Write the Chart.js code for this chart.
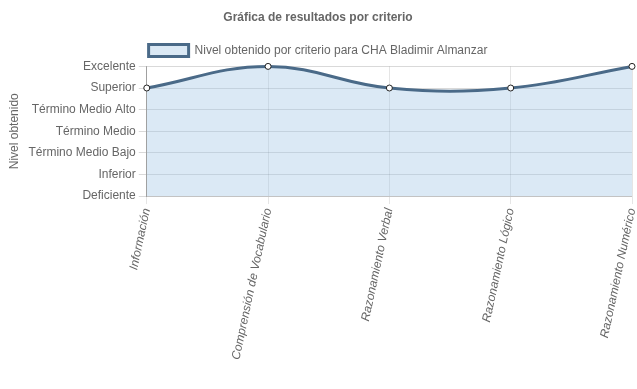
<!DOCTYPE html>
<html>
<head>
<meta charset="utf-8">
<script src="https://cdn.jsdelivr.net/npm/chart.js@4.4.1/dist/chart.umd.min.js"></script>
<style>
  html, body { margin: 0; padding: 0; background: #fff; }
  #wrap { width: 637px; height: 389px; }
</style>
</head>
<body>
<div id="wrap"><canvas id="grafica"></canvas></div>
<script>
// Criterios evaluados
const criterios = ['Información', 'Comprensión de Vocabulario', 'Razonamiento Verbal', 'Razonamiento Lógico', 'Razonamiento Numérico'];
// Niveles (de menor a mayor)
const niveles = ['Deficiente', 'Inferior', 'Término Medio Bajo', 'Término Medio', 'Término Medio Alto', 'Superior', 'Excelente'];
// Nivel obtenido por criterio (índice en niveles)
const resultados = [5, 6, 5, 5, 6];

Chart.defaults.font.family = '"Liberation Sans", Arial, Helvetica, sans-serif';
Chart.defaults.font.size = 12;
Chart.defaults.color = '#666';

new Chart(document.getElementById('grafica').getContext('2d'), {
  type: 'line',
  data: {
    labels: criterios,
    datasets: [{
      label: 'Nivel obtenido por criterio para CHA Bladimir Almanzar',
      data: resultados,
      borderColor: '#4a6a88',
      backgroundColor: 'rgba(160,196,228,0.38)',
      borderWidth: 3,
      fill: true,
      tension: 0.4,
      clip: 6,
      pointRadius: 3,
      pointBorderWidth: 1,
      pointBackgroundColor: '#fff',
      pointBorderColor: '#222'
    }]
  },
  options: {
    responsive: true,
    maintainAspectRatio: false,
    animation: false,
    layout: { padding: { top: 0, right: 4, bottom: 25, left: 3 } },
    plugins: {
      title: {
        display: true,
        text: 'Gráfica de resultados por criterio',
        font: { weight: 'bold', size: 12 },
        padding: { top: 10, bottom: 10 }
      },
      legend: {
        labels: { boxWidth: 40, boxHeight: 12, padding: 10 }
      },
      tooltip: { enabled: false }
    },
    scales: {
      x: {
        grid: { color: 'rgba(0,0,0,0.1)', tickLength: 8 },
        ticks: { minRotation: 78, maxRotation: 78, font: { style: 'italic' } },
        afterFit: scale => {
          // las etiquetas giradas no necesitan margen lateral
          scale.paddingLeft = 0;
          scale.paddingRight = 0;
        }
      },
      y: {
        min: 0,
        max: 6,
        grid: { color: 'rgba(0,0,0,0.15)', tickLength: 8 },
        border: { color: 'rgba(0,0,0,0.3)' },
        ticks: {
          stepSize: 1,
          callback: v => niveles[v]
        },
        title: { display: true, text: 'Nivel obtenido' }
      }
    }
  }
});
</script>
</body>
</html>
